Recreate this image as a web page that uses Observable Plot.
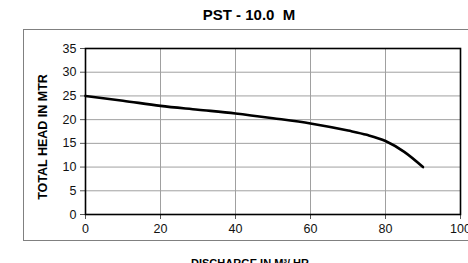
<!DOCTYPE html>
<html>
<head>
<meta charset="utf-8">
<script src="https://cdn.jsdelivr.net/npm/d3@7"></script>
<script src="https://cdn.jsdelivr.net/npm/@observablehq/plot@0.6"></script>
<style>
  html, body { margin: 0; padding: 0; background: #fff; }
  #wrap { position: relative; width: 468px; height: 263px; overflow: hidden; font-family: "Liberation Sans", Arial, sans-serif; }
  #box { position: absolute; left: 23px; top: 29px; width: 480px; height: 212px; border: 1.5px solid #808080; box-sizing: border-box; }
  #title { position: absolute; top: 6px; left: 149px; width: 200px; text-align: center; font-weight: bold; font-size: 15px; white-space: pre; }
  #xlabel { position: absolute; top: 257px; left: 150px; width: 200px; text-align: center; font-weight: bold; font-size: 11px; }
  #ylabel { position: absolute; left: 43px; top: 137px; transform: translate(-50%, -50%) rotate(-90deg); font-weight: bold; font-size: 12.5px; white-space: nowrap; }
  #chart { position: absolute; left: 0; top: 0; }
</style>
</head>
<body>
<div id="wrap">
  <div id="box"></div>
  <div id="chart"></div>
  <div id="title">PST - 10.0  M</div>
  <div id="ylabel">TOTAL HEAD IN MTR</div>
  <div id="xlabel">DISCHARGE IN M³/ HR</div>
</div>
<script>
const discharge = [0, 10, 20, 30, 40, 50, 60, 70, 75, 80, 85, 90];
const head      = [25, 24, 22.9, 22.1, 21.3, 20.3, 19.2, 17.7, 16.8, 15.5, 13.2, 10];
const xTicks = [0, 20, 40, 60, 80, 100];
const yTicks = [0, 5, 10, 15, 20, 25, 30, 35];

const data = discharge.map((d, i) => ({x: d, y: head[i]}));

const chart = Plot.plot({
  width: 468,
  height: 263,
  marginLeft: 85,
  marginRight: 8,
  marginTop: 48,
  marginBottom: 49,
  style: {fontFamily: "'Liberation Sans', Arial, sans-serif", fontSize: "12px", background: "transparent", color: "#111"},
  x: {domain: [0, 100]},
  y: {domain: [0, 35]},
  marks: [
    Plot.gridX(xTicks, {stroke: "#a0a0a0", strokeOpacity: 1, strokeWidth: 1}),
    Plot.gridY(yTicks, {stroke: "#a0a0a0", strokeOpacity: 1, strokeWidth: 1}),
    Plot.axisX(xTicks, {tickSize: 5, tickPadding: 5, fontSize: 12.5, label: null, stroke: "#555"}),
    Plot.axisY(yTicks, {tickSize: 5, tickPadding: 4, fontSize: 12.5, label: null, stroke: "#555"}),
    Plot.frame({stroke: "#000", strokeWidth: 1.6}),
    Plot.line(data, {x: "x", y: "y", curve: "monotone-x", stroke: "#000", strokeWidth: 2.6})
  ]
});
document.getElementById("chart").appendChild(chart);
</script>
</body>
</html>
